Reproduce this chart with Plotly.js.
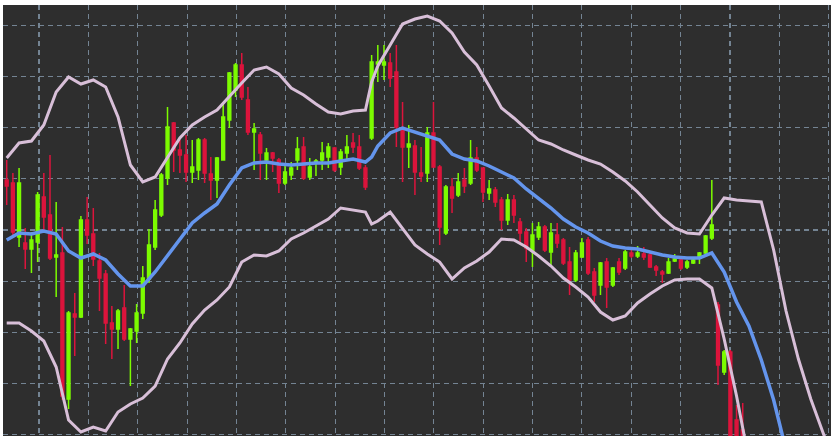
<!DOCTYPE html>
<html>
<head>
<meta charset="utf-8">
<script src="https://cdn.plot.ly/plotly-3.0.1.min.js"></script>
<style>
  html, body { margin: 0; padding: 0; background: #ffffff; }
  #chart { width: 831px; height: 436px; }
</style>
</head>
<body>
<div id="chart"></div>
<script>
// Candle values (price points), one per bar
const opens  = [256,253,199,193,187,194,239,221,179,183, 37,122,119,216,202,175,162,113,107,128,
                 97,105,123,157,189,221,258,313,286,281, 264,266,296,262,256,276,316,346,371,336,
                304,301,276,283,276,253,261,276,289,259, 273,276,279,288,269,283,293,289,268,298,
                372,371,373,364,306,289,290,263,263,303, 269,203,249,241,256,253,278,268,243,246,
                236,216,236,214,204,185,199,209,184,201, 196,174,156,179,196,164,151,174,151,174,
                168,183,180,182,181,169,164,163,175,176, 169,173,179,183,198,131, 64, 84, 16,  6];
const closes = [250,204,253,187,196,241,219,178,181, 40,123,119,216,201,177,158,113,107,125, 97,
                107,123,158,191,226,261,309,286,281,264, 269,296,263,256,278,319,363,371,339,304,
                307,283,283,278,253,264,268,287,258,269, 275,283,289,266,284,289,289,268,249,374,
                374,374,358,309,289,292,264,260,303,269, 209,249,238,254,250,278,266,244,247,234,
                216,236,221,203,188,201,209,186,203,193, 173,156,183,193,163,141,173,149,168,164,
                184,180,183,179,169,166,162,174,177,168, 174,176,183,200,211, 71, 84, -4,-14,-24];
const highs  = [276,263,268,208,204,244,263,281,234,209, 125,143,220,239,228,183,166,130,127,151,
                108,132,170,207,236,263,329,314,296,301, 296,298,298,279,279,333,364,373,383,349,
                313,304,288,284,278,273,274,299,299,278, 277,294,293,289,287,301,303,301,271,381,
                391,391,383,391,334,311,296,289,309,334, 271,251,258,263,268,296,289,268,256,249,
                239,242,241,218,208,213,214,211,213,213, 198,189,186,198,199,168,174,178,169,178,
                186,186,190,189,183,171,166,178,182,178, 176,179,184,201,256,134, 86, 86, 31, 33];
const lows   = [231,201,189,167,163,174,204,176,139, 36,  27, 80,118,192,170,125, 92, 77, 87, 95,
                 50, 93,117,153,186,219,251,264,263,254, 253,256,253,236,238,276,308,339,336,301,
                266,256,256,264,243,251,256,266,256,256, 260,266,268,264,261,276,283,266,246,296,
                354,356,349,289,254,268,241,254,254,268, 191,201,223,239,243,251,264,234,236,229,
                206,211,213,193,174,169,196,184,171,188, 171,141,154,178,161,134,141,128,149,161,
                166,178,178,176,168,160,153,162,174,166, 167,172,172,181,196, 51, 61, -9,-19,-29];

// Bollinger band values, sampled on these bars
const lineBars = [0,2,4,6,8,10,12,14,16,18,20,22,24,26,28,30,32,34,36,38,40,42,44,46,48,50,52,54,56,58,59,
                  60,62,64,66,68,70,72,74,76,78,80,82,84,86,88,90,92,94,96,98,100,102,104,106,108,110,
                  112,114,116,118,120,122,124,126,128,130,132,134];
const upperBand = [278,293,295,311,344,359,352,356,349,319,271,254,259,278,298,311,319,326,340,353,
                   366,369,362,348,341,332,324,322,325,326,354,
                   370,391,412,417,420,415,403,384,371,350,328,318,307,296,292,286,281,276,272,264,
                   255,244,231,218,208,203,202,221,238,236,235,234,186,125,77,37,3,-29];
const middleBand = [196,203,202,205,202,185,178,182,176,162,150,150,164,180,197,213,223,232,251,268,
                    273,274,272,271,272,273,273,275,277,274,279,
                    290,303,308,304,300,296,282,277,275,270,264,258,247,238,228,217,209,203,195,190,
                    188,187,184,181,179,178,178,183,164,134,110,76,36,-14];
const lowerBand = [113,113,105,95,69,16,4,9,5,24,32,38,50,77,93,112,126,136,149,174,
                   181,180,185,197,203,210,217,228,226,224,212,
                   215,224,207,191,182,174,157,168,175,184,197,196,189,180,170,158,149,139,124,116,
                   120,133,142,150,156,157,157,148,97,40,-24];

const bars = opens.map((_, i) => i);

const traces = [
  {
    type: 'candlestick',
    x: bars, open: opens, high: highs, low: lows, close: closes,
    increasing: { line: { color: '#7cfc00', width: 1.5 }, fillcolor: '#7cfc00' },
    decreasing: { line: { color: '#dc143c', width: 1.5 }, fillcolor: '#dc143c' },
    whiskerwidth: 0,
    hoverinfo: 'skip'
  },
  {
    type: 'scatter', mode: 'lines',
    x: lineBars.slice(0, upperBand.length), y: upperBand,
    line: { color: '#d8bfd8', width: 3 }, hoverinfo: 'skip'
  },
  {
    type: 'scatter', mode: 'lines',
    x: lineBars.slice(0, lowerBand.length), y: lowerBand,
    line: { color: '#d8bfd8', width: 3 }, hoverinfo: 'skip'
  },
  {
    type: 'scatter', mode: 'lines',
    x: lineBars.slice(0, middleBand.length), y: middleBand,
    line: { color: '#6495ed', width: 3.5 }, hoverinfo: 'skip'
  }
];

const layout = {
  width: 831, height: 436,
  margin: { l: 3, r: 0, t: 5, b: 0, pad: 0 },
  paper_bgcolor: '#ffffff',
  plot_bgcolor: '#2e2e2e',
  showlegend: false,
  hovermode: false,
  boxgap: 0.35,
  xaxis: {
    range: [-0.598, 133.27],
    tickmode: 'linear', tick0: 5.22, dtick: 7.98,
    showgrid: true, gridcolor: '#748493', gridwidth: 1.1, griddash: '5px,4px',
    showticklabels: false, ticks: '', zeroline: false, showline: false,
    rangeslider: { visible: false }, fixedrange: true
  },
  yaxis: {
    range: [0, 431],
    tickmode: 'linear', tick0: 1.7, dtick: 51.08,
    showgrid: true, gridcolor: '#748493', gridwidth: 1.1, griddash: '5px,4px',
    showticklabels: false, ticks: '', zeroline: false, showline: false, fixedrange: true
  }
};

Plotly.newPlot('chart', traces, layout, { staticPlot: true, displayModeBar: false });
</script>
</body>
</html>
